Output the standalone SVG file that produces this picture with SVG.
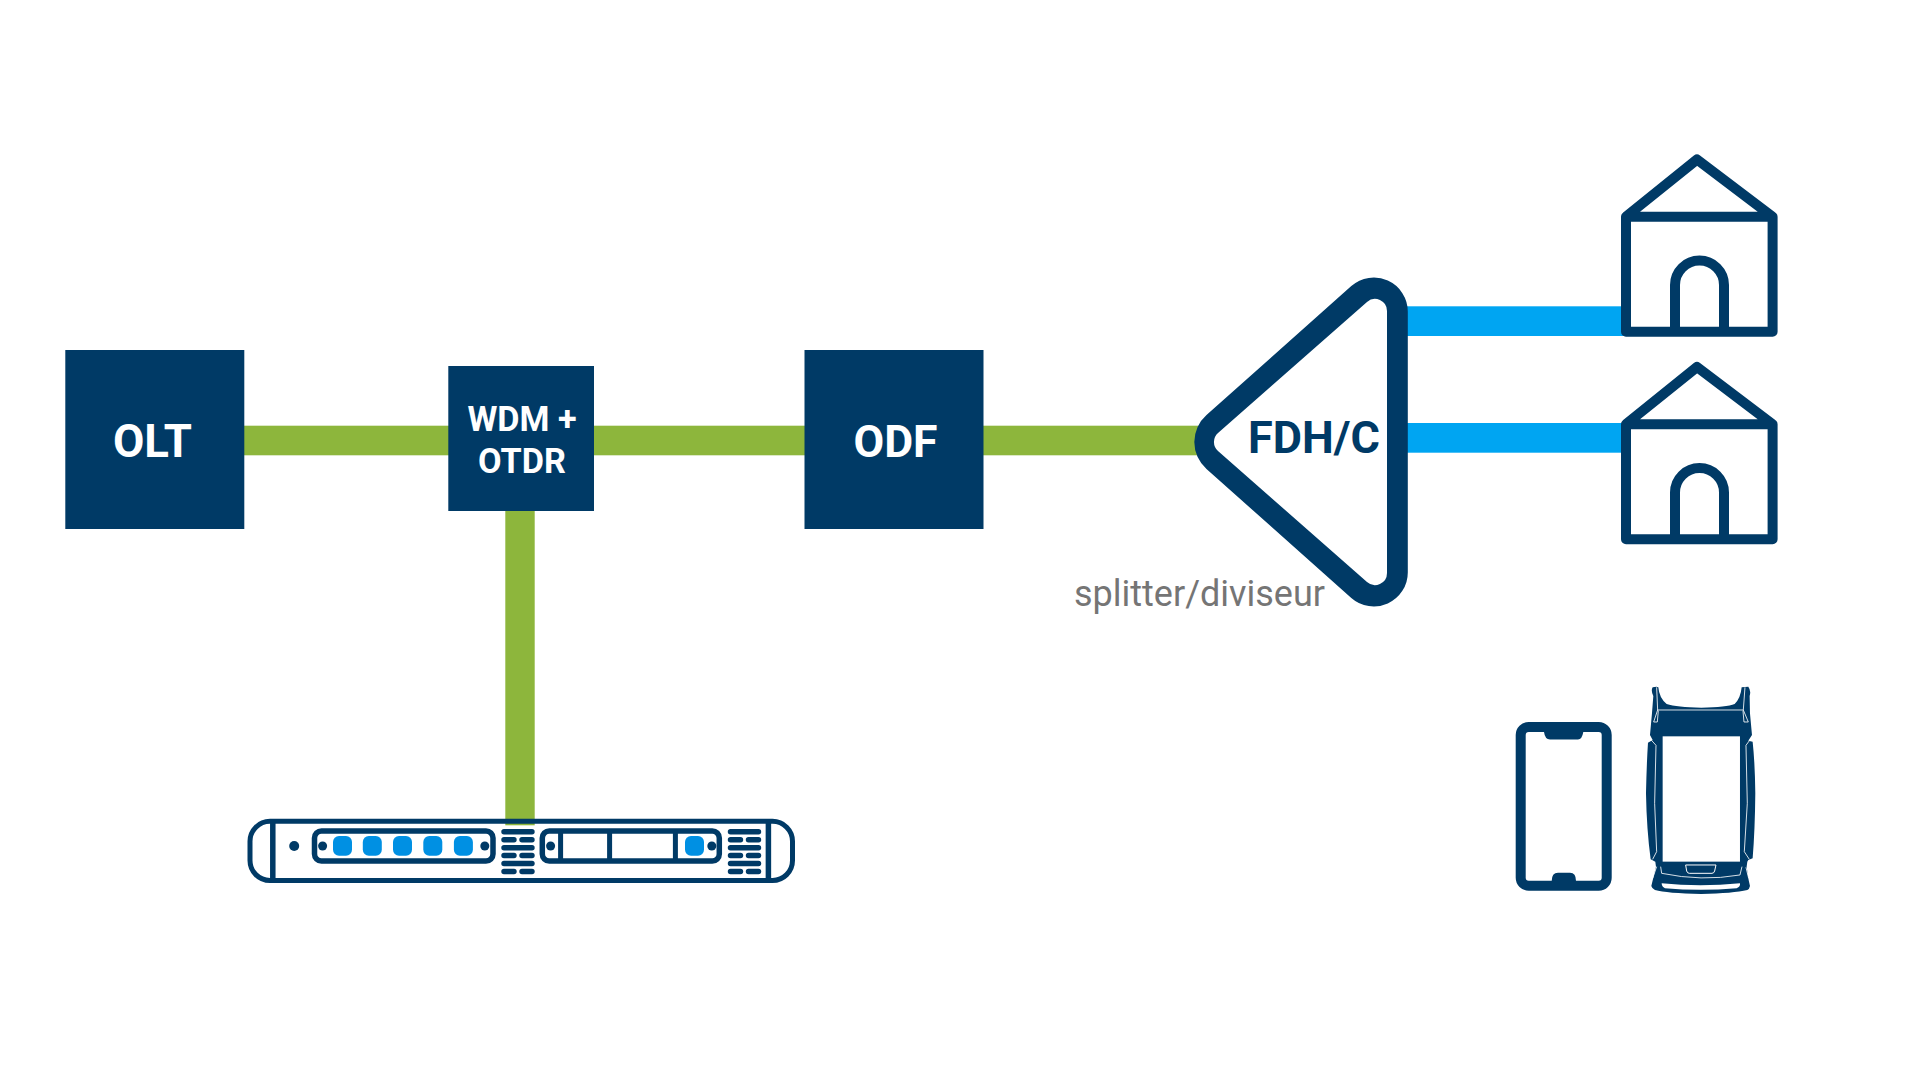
<svg xmlns="http://www.w3.org/2000/svg" width="1920" height="1080" viewBox="0 0 1920 1080">
<style>
.box{fill:#003a66}
.lab{font-family:Roboto,"Liberation Sans",sans-serif;font-weight:700;text-anchor:middle}
.w{fill:#fff}
.n{fill:#003a66}
.ln{fill:none;stroke:#003a66}
.g{fill:#8db63c}
.b{fill:#00a5f2}
.p{fill:#0090e3}
.wl{fill:none;stroke:#fff;stroke-width:2.5}
</style>
<defs>
<g id="vents" class="n">
<rect x="0" y="0" width="33.4" height="5.4" rx="2.7"/><rect x="0" y="8" width="15.4" height="5.4" rx="2.7"/><rect x="18" y="8" width="15.4" height="5.4" rx="2.7"/>
<rect x="0" y="16" width="33.4" height="5.4" rx="2.7"/><rect x="0" y="23.8" width="15.4" height="5.4" rx="2.7"/><rect x="18" y="23.8" width="15.4" height="5.4" rx="2.7"/>
<rect x="0" y="31.8" width="33.4" height="5.4" rx="2.7"/><rect x="0" y="39.8" width="15.4" height="5.4" rx="2.7"/><rect x="18" y="39.8" width="15.4" height="5.4" rx="2.7"/>
</g>
<g id="house">
<path class="ln" stroke-width="10" stroke-linejoin="round" fill="#fff" d="M1626 216.700H1772.600V331.700H1626ZM1626 216.700L1697 159.500L1772.600 216.700"/>
<path class="ln" stroke-width="10" d="M1675 330V285a24.500 24.500 0 0 1 49 0V330"/>
</g>
</defs>
<g id="connectors">
<rect class="g" x="244" y="425.700" width="205" height="29.600"/>
<rect class="g" x="594" y="425.700" width="211" height="29.600"/>
<rect class="g" x="983" y="425.700" width="220" height="29.600"/>
<rect class="g" x="505.300" y="511" width="29.400" height="314.300"/>
<rect class="b" x="1400" y="306.300" width="225" height="29.700"/>
<rect class="b" x="1400" y="423" width="225" height="29.700"/>
</g>
<g id="server">
<rect class="ln" x="250" y="821.300" width="542.500" height="59.200" rx="20" stroke-width="5"/>
<path class="ln" stroke-width="5.500" d="M272.800 822V880M768.400 822V880"/>
<ellipse class="n" cx="294.200" cy="846" rx="5" ry="5"/>
<rect class="ln" x="314.500" y="831" width="178.500" height="30" rx="7" stroke-width="5.500"/>
<circle class="n" cx="322.600" cy="846" r="4.500"/><circle class="n" cx="484.800" cy="846" r="4.500"/>
<rect class="p" x="333" y="836" width="19" height="19.700" rx="6"/><rect class="p" x="362.800" y="836" width="19" height="19.700" rx="6"/><rect class="p" x="393" y="836" width="19" height="19.700" rx="6"/><rect class="p" x="423.300" y="836" width="19" height="19.700" rx="6"/><rect class="p" x="453.900" y="836" width="19" height="19.700" rx="6"/>
<use href="#vents" x="501.300" y="829"/>
<rect class="ln" x="542.300" y="831" width="177" height="30" rx="7" stroke-width="5.500"/>
<path class="ln" stroke-width="5" d="M560.600 831V861M609.600 831V861M675.400 831V861"/>
<circle class="n" cx="550.600" cy="846" r="4.500"/><circle class="n" cx="711.800" cy="846" r="4.500"/>
<rect class="p" x="685" y="836" width="19" height="19.700" rx="6"/>
<use href="#vents" x="727.800" y="829"/>
</g>
<g id="olt"><rect class="box" x="65.300" y="350" width="179" height="179"/><text class="lab w" x="152.500" y="456.500" font-size="45.500">OLT</text></g>
<g id="wdm-otdr"><rect class="box" x="448.300" y="366" width="145.700" height="145"/><text class="lab w" x="522" y="430.500" font-size="34.200">WDM +</text><text class="lab w" x="522" y="472.700" font-size="34.200">OTDR</text></g>
<g id="odf"><rect class="box" x="804.500" y="350" width="179" height="179"/><text class="lab w" x="895.500" y="456.500" font-size="44.500">ODF</text></g>
<g id="fdh"><path class="n" d="M1206.500 415L1351.300 286.100A34 34 0 0 1 1407.800 311.600V572.400A34 34 0 0 1 1351.300 597.900L1206.500 469A36 36 0 0 1 1206.500 415Z"/><path class="w" d="M1218 433A12 12 0 0 0 1218 451L1367 582A12 12 0 0 0 1387 573V311A12 12 0 0 0 1367 302Z"/><text class="lab" fill="#003a66" x="1314" y="453.300" font-size="45">FDH/C</text></g>
<g id="splitter-label"><text x="1074" y="606" font-family="Roboto,'Liberation Sans',sans-serif" font-size="36" fill="#757575">splitter/diviseur</text></g>
<g id="house-1"><use href="#house"/></g>
<g id="house-2"><use href="#house" y="207.500"/></g>
<g id="phone"><rect class="ln" x="1520.700" y="727" width="86" height="158.700" rx="8" fill="#fff" stroke-width="10"/><path class="n" d="M1544 732H1583.300Q1582 739.500 1578 739.500H1550Q1545 739.500 1544 732ZM1551.700 881Q1551.700 872.700 1558 872.700H1570Q1576 872.700 1576 881Z"/></g>
<g id="tester" transform="translate(1500 670) scale(.3333)">
<path class="n" d="M458 52L470 50L475 52Q478 85 500 102Q530 112 604 113Q680 112 704 102Q722 85 725 52L745 50Q754 62 749 78L750 130L756 195L745 212L758 215Q765 280 766 370Q765 480 758 565L745 570L742 575L740 590L746 630L750 648Q748 658 742 660Q700 670 604 672Q500 670 465 660Q456 656 454 648L468 590L466 575L452 568Q440 480 438 370Q440 280 444 218L458 210L450 195L456 130L460 78Q452 62 458 52Z"/>
<rect class="w" x="488" y="199" width="232" height="376"/>
<path class="wl" d="M472 120H730M470 52L473 120L461 156L472 156L475 122M735 52L730 120L745 156L732 156L729 122M451 207L468 226L464 400L470 545L458 568M752 207L738 226L742 400L733 545L748 568M470 590L458 625M482 590L485 610Q604 635 720 615L726 590M738 592L746 625"/>
<path class="n" stroke="#fff" stroke-width="3" d="M557 585H648L644 603Q642 610 636 610H568Q562 610 560 603Z"/>
<path class="w" d="M485 640Q600 652 720 640Q722 650 710 655Q600 664 495 655Q485 650 485 640Z"/>
</g>
</svg>
